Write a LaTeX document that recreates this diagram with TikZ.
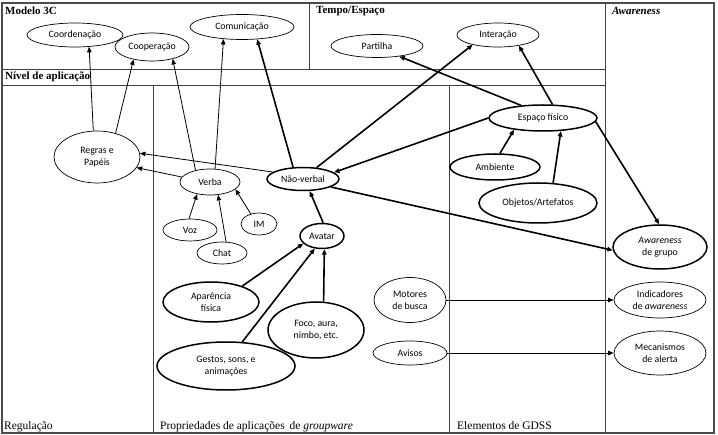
\documentclass[tikz,border=0pt]{standalone}
\usepackage{fontspec}
\setmainfont{Liberation Serif}
\newfontfamily\calib{Carlito}
\usetikzlibrary{shapes.geometric,arrows.meta}

\tikzset{
	elip/.style={ellipse,draw,line width=0.7pt,inner sep=0pt,align=center,font=\calib\fontsize{9.8}{12}\selectfont},
	elipb/.style={elip,line width=1.5pt},
	seta/.style={-{Triangle[length=5.5pt,width=4.5pt]},line width=0.8pt},
	setab/.style={seta,line width=1.6pt},
	titulo/.style={anchor=west,inner sep=0pt,font=\bfseries\fontsize{11}{13}\selectfont},
	rodape/.style={anchor=base west,inner sep=0pt,font=\fontsize{11.5}{13}\selectfont},
	grelha/.style={draw=black!75,line width=0.8pt}
}

\begin{document}
\begin{tikzpicture}[x=1pt,y=-1pt]
		\useasboundingbox (0,0) rectangle (718,435);
		
		%table outline
		\draw[black!70,line width=2pt] (2,3) rectangle (714,433);
		\draw[grelha] (2,69) -- (605,69);
		\draw[grelha] (2,85) -- (605,85);
		\draw[grelha] (309,3) -- (309,69);
		\draw[grelha] (605,3) -- (605,433);
		\draw[grelha] (153,85) -- (153,433);
		\draw[grelha] (449,85) -- (449,433);
		
		%headers
		\node[titulo] (h3c) at (5,11) {Modelo 3C};
		\node[titulo] (htempo) at (316,11) {Tempo/Espaço};
		\node[titulo] (haware) at (612,11) {\textit{Awareness}};
		\node[titulo] (hnivel) at (5,77) {Nível de aplicação};
		\node[rodape] (hreg) at (4,430) {Regulação};
		\node[rodape] (hprop) at (160,430) {Propriedades de aplicações\, de \textit{groupware}};
		\node[rodape] (hgdss) at (457,430) {Elementos de GDSS};
		
		%modelo 3C
		\node[elip,minimum width=96,minimum height=24] (coord) at (75,35) {Coordenação};
		\node[elip,minimum width=74,minimum height=28] (coop) at (152,47) {Cooperação};
		\node[elip,minimum width=104,minimum height=25] (comun) at (242,27) {Comunicação};
		
		%tempo/espaco
		\node[elip,minimum width=92,minimum height=23] (partilha) at (377,46) {Partilha};
		\node[elip,minimum width=82,minimum height=24] (interacao) at (498,35) {Interação};
		
		%regulacao
		\node[elip,minimum width=86,minimum height=52] (regras) at (97,157) {Regras e\\Papéis};
		
		%propriedades
		\node[elip,minimum width=60,minimum height=26] (verba) at (210,182) {Verba};
		\node[elip,minimum width=54,minimum height=22] (voz) at (190,230) {Voz};
		\node[elip,minimum width=50,minimum height=22] (chat) at (222,253) {Chat};
		\node[elip,minimum width=36,minimum height=22] (im) at (259,224) {IM};
		\node[elipb,minimum width=72,minimum height=23] (naoverbal) at (303,179) {Não-verbal};
		\node[elipb,minimum width=44,minimum height=25] (avatar) at (322,236) {Avatar};
		\node[elipb,minimum width=96,minimum height=40] (aparencia) at (211,302) {Aparência\\física};
		\node[elipb,minimum width=96,minimum height=56] (foco) at (316,330) {Foco, aura,\\nimbo, etc.};
		\node[elipb,minimum width=138,minimum height=48] (gestos) at (226,366) {Gestos, sons, e\\animações};
		\node[elip,minimum width=72,minimum height=45] (motores) at (410,300) {Motores\\de busca};
		\node[elip,minimum width=74,minimum height=24] (avisos) at (410,353) {Avisos};
		
		%gdss
		\node[elipb,minimum width=108,minimum height=26] (espaco) at (543,118) {Espaço físico};
		\node[elipb,minimum width=90,minimum height=26] (ambiente) at (495,167) {Ambiente};
		\node[elipb,minimum width=118,minimum height=40] (objetos) at (538,203) {Objetos/Artefatos};
		
		%awareness
		\node[elipb,minimum width=94,minimum height=44] (awgrupo) at (660,247) {\textit{Awareness}\\de grupo};
		\node[elip,minimum width=92,minimum height=36] (indicadores) at (660,300) {Indicadores\\de \textit{awareness}};
		\node[elip,minimum width=92,minimum height=44] (mecanismos) at (660,353) {Mecanismos\\de alerta};
		
		%arrows
		\draw[seta] (regras.98) -- (coord.-40);
		\draw[seta] (regras.52) -- (coop.-146);
		\draw[seta] (verba.141) -- (coop.-30);
		\draw[seta] (verba.69) -- (comun.-147);
		\draw[setab] (naoverbal.130) -- (comun.-39);
		\draw[seta] (naoverbal.167) -- (regras.5);
		\draw[seta] (verba.170) -- (regras.-15);
		\draw[seta] (voz.95) -- (verba.-137);
		\draw[seta] (chat.70) -- (verba.-58);
		\draw[seta] (im.129) -- (verba.-16);
		\draw[setab] (avatar.85) -- (naoverbal.-61);
		\draw[setab] (aparencia.27) -- (avatar.-158);
		\draw[setab] (gestos.56) -- (avatar.-120);
		\draw[setab] (foco.75) -- (avatar.-80);
		\draw[setab] (espaco.180) -- (naoverbal.12);
		\draw[setab] (naoverbal.40) -- (interacao.-159);
		\draw[setab] (espaco.150) -- (partilha.-25);
		\draw[setab] (espaco.55) -- (interacao.-27);
		\draw[setab] (ambiente.70) -- (espaco.-158);
		\draw[setab] (objetos.53) -- (espaco.-36);
		\draw[setab] (espaco.-4) -- (awgrupo.92);
		\draw[setab] (naoverbal.-16) -- (awgrupo.-176);
		\draw[seta] (motores) -- (indicadores);
		\draw[seta] (avisos) -- (mecanismos);
\end{tikzpicture}
\end{document}
